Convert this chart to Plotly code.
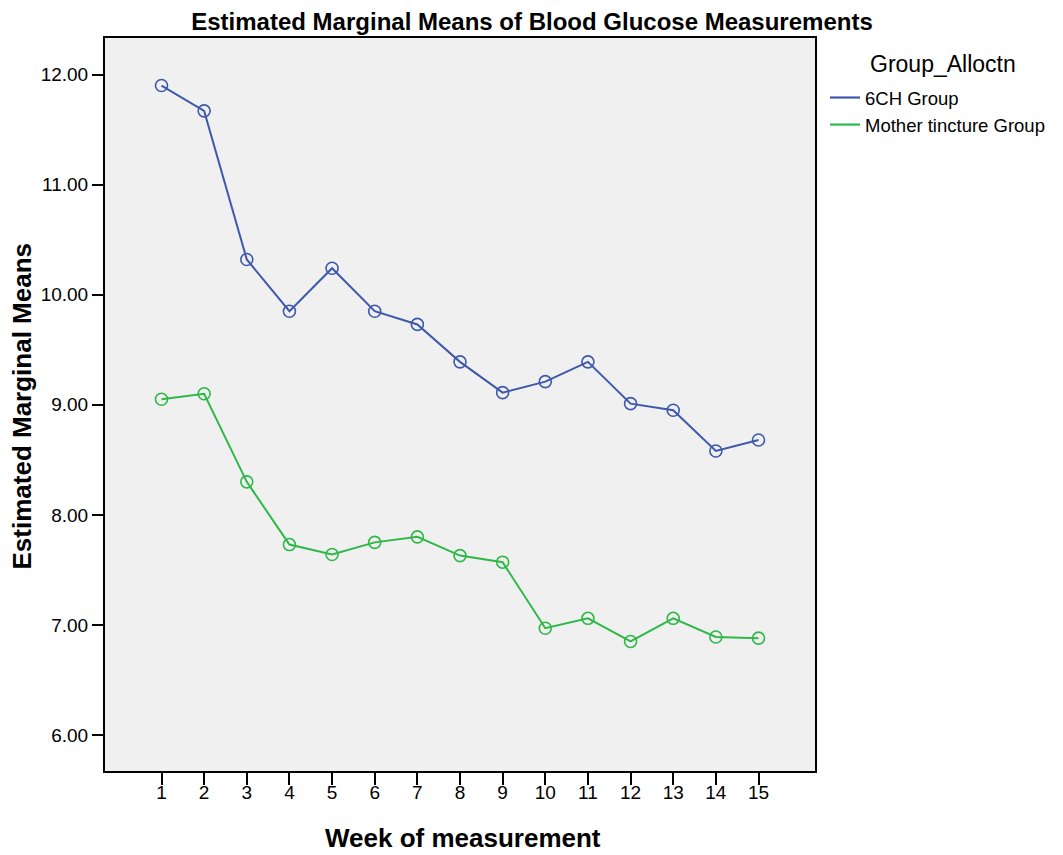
import plotly.graph_objects as go

weeks = list(range(1, 16))
week_labels = [str(w) for w in weeks]
group_6ch = [11.90, 11.67, 10.32, 9.85, 10.24, 9.85, 9.73, 9.39, 9.11, 9.21, 9.39, 9.01, 8.95, 8.58, 8.68]
group_mt = [9.05, 9.10, 8.30, 7.73, 7.64, 7.75, 7.80, 7.63, 7.57, 6.97, 7.06, 6.85, 7.06, 6.89, 6.88]
series_names = ["6CH Group", "Mother tincture Group"]
series_colors = ["#3e58ac", "#2eb848"]
y_ticks = [6, 7, 8, 9, 10, 11, 12]

L, R, T, B = 105, 815, 38, 771
W, H = 1063, 855
PW, PH = R - L, B - T

def px_x(x):
    return (x - L) / PW

def px_y(y):
    return (B - y) / PH

fig = go.Figure()
for name, vals, col in zip(series_names, [group_6ch, group_mt], series_colors):
    fig.add_trace(go.Scatter(
        x=weeks, y=vals, mode="lines+markers", name=name, showlegend=False,
        line=dict(color=col, width=2),
        marker=dict(symbol="circle-open", size=12, color=col, line=dict(width=1.6, color=col)),
    ))
    fig.add_trace(go.Scatter(
        x=[None], y=[None], mode="lines", name=name, showlegend=True,
        line=dict(color=col, width=2.2),
    ))

fig.update_layout(
    width=W, height=H,
    margin=dict(l=L, r=W - R, t=T, b=H - B, autoexpand=False),
    paper_bgcolor="white", plot_bgcolor="#f0f0f0",
    title=dict(text="<b>Estimated Marginal Means of Blood Glucose Measurements</b>",
               x=532 / W, xanchor="center", y=1 - 22 / H, yanchor="middle",
               font=dict(family="Liberation Sans", size=24, color="black")),
    legend=dict(x=px_x(825), xanchor="left", y=px_y(79), yanchor="top",
                font=dict(family="Liberation Sans", size=18.5, color="black"),
                bgcolor="rgba(0,0,0,0)", tracegroupgap=0, itemwidth=30),
    font=dict(family="Liberation Sans", color="black"),
    annotations=[
        dict(text="Group_Alloctn", xref="paper", yref="paper", x=px_x(868), y=px_y(64),
             xanchor="left", yanchor="middle", showarrow=False,
             font=dict(family="Liberation Sans", size=23, color="black")),
        dict(text="<b>Estimated Marginal Means</b>", xref="paper", yref="paper",
             x=px_x(21), y=px_y(406.5), xanchor="center", yanchor="middle", textangle=-90,
             showarrow=False, font=dict(family="Liberation Sans", size=26, color="black")),
        dict(text="<b>Week of measurement</b>", xref="paper", yref="paper",
             x=px_x(462.5), y=px_y(838.5), xanchor="center", yanchor="middle",
             showarrow=False, font=dict(family="Liberation Sans", size=26, color="black")),
    ],
)
fig.update_xaxes(
    range=[-0.325, 16.325], tickmode="array", tickvals=weeks, ticktext=week_labels,
    showgrid=False, zeroline=False, showline=True, linecolor="black", linewidth=2, mirror=True,
    ticks="outside", ticklen=12, tickwidth=2, tickcolor="black", automargin=False,
    ticklabelstandoff=-9,
    tickfont=dict(family="Liberation Sans", size=19, color="black"),
)
fig.update_yaxes(
    range=[5.673, 12.332], tickmode="array", tickvals=y_ticks, ticktext=[f"{v:.2f}" for v in y_ticks],
    showgrid=False, zeroline=False, showline=True, linecolor="black", linewidth=2, mirror=True,
    ticks="outside", ticklen=11, tickwidth=2, tickcolor="black", automargin=False,
    tickfont=dict(family="Liberation Sans", size=19, color="black"),
)
fig.write_html("out.html")
